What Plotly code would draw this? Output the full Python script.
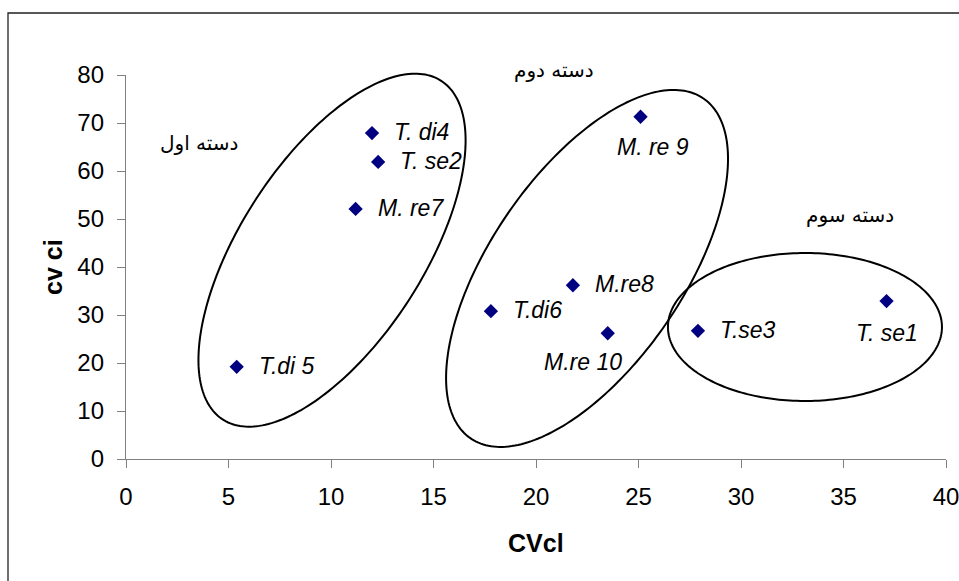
import numpy as np
import plotly.graph_objects as go

# ---- data ----
labels = ["T. se1", "T. se2", "T.se3", "T. di4", "T.di 5", "T.di6",
          "M. re7", "M.re8", "M. re 9", "M.re 10"]
cv_cl = [37.1, 12.3, 27.9, 12.0, 5.4, 17.8, 11.2, 21.8, 25.1, 23.5]
cv_ci = [32.9, 61.9, 26.7, 67.9, 19.2, 30.8, 52.1, 36.2, 71.3, 26.2]

group_names = ["دسته اول", "دسته دوم", "دسته سوم"]
group_text_x = [3.6, 20.9, 35.3]
group_text_y = [65.8, 81.0, 50.8]

# ---- layout geometry (pixels) ----
W, H = 959, 581
ML, MR, MT, MB = 126, 13, 75, 122
XR = [0, 40]
YR = [0, 80]
pw = W - ML - MR
ph = H - MT - MB
sx = pw / (XR[1] - XR[0])
sy = ph / (YR[1] - YR[0])


def px(x):
    return (x - XR[0]) / (XR[1] - XR[0])


def py(y):
    return (y - YR[0]) / (YR[1] - YR[0])


# label offsets (pixels): (xshift, yshift, xanchor)
label_style = {
    "T. se1": (0, -32, "center"),
    "M. re 9": (12, -30, "center"),
    "M.re 10": (-25, -29, "center"),
}

fig = go.Figure()
fig.add_trace(go.Scatter(
    x=cv_cl, y=cv_ci, mode="markers",
    marker=dict(symbol="diamond", size=11, color="#000080"),
    hoverinfo="skip", showlegend=False))

annotations = []
for lab, xv, yv in zip(labels, cv_cl, cv_ci):
    xs, ys, xa = label_style.get(lab, (20, 1, "left"))
    annotations.append(dict(
        x=xv, y=yv, xref="x", yref="y", text=lab, showarrow=False,
        xanchor=xa, yanchor="middle", xshift=xs, yshift=ys,
        font=dict(family="Liberation Sans", size=23, color="black",
                  style="italic")))

for name, gx, gy in zip(group_names, group_text_x, group_text_y):
    annotations.append(dict(
        x=px(gx), y=py(gy), xref="paper", yref="paper", text=name,
        showarrow=False, xanchor="center", yanchor="middle",
        font=dict(family="DejaVu Sans", size=20, color="black")))

annotations.append(dict(x=0.5, y=-0.219, xref="paper", yref="paper",
                        text="<b>CVcl</b>", showarrow=False,
                        xanchor="center", yanchor="middle",
                        font=dict(family="Liberation Sans", size=25, color="black")))
annotations.append(dict(x=-0.089, y=0.5, xref="paper", yref="paper",
                        text="<b>cv ci</b>", showarrow=False, textangle=-90,
                        xanchor="center", yanchor="middle",
                        font=dict(family="Liberation Sans", size=25, color="black")))

# ellipses: center (data), semi-axes (pixels), angle (deg)
ellipses = [
    ((10.05, 43.5), 201.5, 91.6, 57.2),
    ((22.49, 39.7), 206.0, 96.4, 55.6),
    ((33.12, 27.5), 137.0, 74.0, 0.0),
]
shapes = []
t = np.linspace(0, 2 * np.pi, 240)
for (cx, cy), a, b, ang in ellipses:
    th = np.radians(ang)
    dx = a * np.cos(t) * np.cos(th) - b * np.sin(t) * np.sin(th)
    dy = a * np.cos(t) * np.sin(th) + b * np.sin(t) * np.cos(th)
    xs = px(cx + dx / sx)
    ys = py(cy + dy / sy)
    path = "M " + " L ".join(f"{x:.5f},{y:.5f}" for x, y in zip(xs, ys)) + " Z"
    shapes.append(dict(type="path", path=path, xref="paper", yref="paper",
                       line=dict(color="black", width=2)))

# outer chart frame (only left and top edges visible)
fx0 = (8 - ML) / pw
fy1 = (H - MB - 13) / ph
shapes.append(dict(type="rect", xref="paper", yref="paper",
                   x0=fx0, x1=(W + 10 - ML) / pw, y0=-(MB + 10) / ph, y1=fy1,
                   line=dict(color="#222222", width=1.3)))

axis_common = dict(showgrid=False, zeroline=False, showline=True,
                   linecolor="#808080", linewidth=1.3, ticks="outside",
                   ticklen=8, tickcolor="#808080", tickwidth=1.3,
                   tickfont=dict(family="Liberation Sans", size=24, color="black"),
                   ticklabelstandoff=8, ticklabeloverflow="allow",
                   automargin=False)

fig.update_layout(
    width=W, height=H,
    margin=dict(l=ML, r=MR, t=MT, b=MB, autoexpand=False),
    paper_bgcolor="white", plot_bgcolor="white",
    xaxis=dict(range=XR, tick0=0, dtick=5, **axis_common),
    yaxis=dict(range=YR, tick0=0, dtick=10, **axis_common),
    annotations=annotations, shapes=shapes, showlegend=False)

fig.write_html("out.html",
               config={"displayModeBar": False},
               post_script="document.body.style.margin='0';"
                           "document.body.style.overflow='hidden';")
